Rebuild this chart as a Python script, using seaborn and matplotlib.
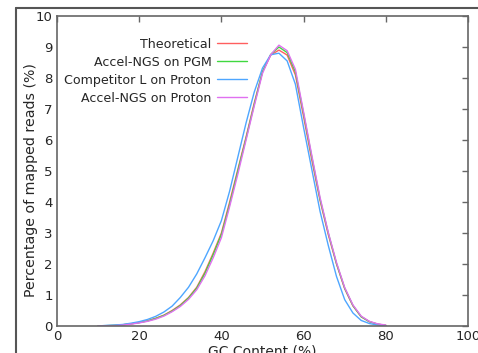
import numpy as np
import pandas as pd
import matplotlib
matplotlib.use("Agg")
import matplotlib.pyplot as plt
from matplotlib.lines import Line2D
import seaborn as sns

# GC content bins (%)
gc = [10, 12, 14, 16, 18, 20, 22, 24, 26, 28, 30, 32, 34, 36, 38, 40, 42, 44,
      46, 48, 50, 52, 54, 56, 58, 60, 62, 64, 66, 68, 70, 72, 74, 76, 78, 80]

theoretical = [0.0, 0.01, 0.02, 0.04, 0.07, 0.11, 0.17, 0.25, 0.35, 0.5, 0.68, 0.92,
               1.25, 1.75, 2.35, 3.0, 4.0, 5.05, 6.1, 7.2, 8.2, 8.74, 8.9, 8.74,
               8.1, 6.75, 5.35, 4.05, 2.95, 2.0, 1.2, 0.65, 0.3, 0.14, 0.06, 0.02]
accel_pgm = [0.0, 0.01, 0.02, 0.04, 0.07, 0.11, 0.16, 0.24, 0.34, 0.48, 0.66, 0.9,
             1.22, 1.7, 2.3, 2.95, 3.92, 5.0, 6.05, 7.15, 8.2, 8.76, 9.0, 8.82,
             8.2, 6.85, 5.45, 4.1, 3.0, 2.02, 1.22, 0.66, 0.3, 0.14, 0.06, 0.02]
competitor_proton = [0.0, 0.02, 0.03, 0.05, 0.09, 0.14, 0.21, 0.31, 0.45, 0.64, 0.92, 1.25,
                     1.68, 2.2, 2.75, 3.4, 4.35, 5.45, 6.55, 7.55, 8.32, 8.75, 8.8, 8.55,
                     7.8, 6.4, 5.05, 3.7, 2.6, 1.6, 0.85, 0.42, 0.18, 0.08, 0.03, 0.01]
accel_proton = [0.0, 0.0, 0.01, 0.03, 0.06, 0.1, 0.15, 0.22, 0.32, 0.46, 0.63, 0.86,
                1.17, 1.62, 2.2, 2.85, 3.85, 4.9, 6.0, 7.1, 8.15, 8.75, 9.06, 8.88,
                8.28, 6.9, 5.5, 4.15, 3.02, 2.05, 1.24, 0.68, 0.32, 0.15, 0.07, 0.03]

labels = ["Theoretical", "Accel-NGS on PGM", "Competitor L on Proton", "Accel-NGS on Proton"]
colors = ["#ff5f5f", "#40d840", "#4ea6ff", "#e070f0"]

df = pd.concat([
    pd.DataFrame({"gc": gc, "pct": vals, "sample": lab})
    for lab, vals in zip(labels, [theoretical, accel_pgm, competitor_proton, accel_proton])
])

sns.set_style("white")
plt.rcParams["font.family"] = ["DejaVu Sans"]

fig = plt.figure(figsize=(4.78, 3.53), dpi=100)
ax = fig.add_axes([57 / 478, 1 - 326 / 353, 411 / 478, 310 / 353])

sns.lineplot(data=df, x="gc", y="pct", hue="sample", hue_order=labels,
             palette=colors, linewidth=1.0, ax=ax)

ax.set_xlim(0, 100)
ax.set_ylim(0, 10)
ax.set_xticks(range(0, 101, 20))
ax.set_yticks(range(0, 11))
ax.set_xlabel("GC Content (%)", fontsize=10, labelpad=1)
ax.set_ylabel("Percentage of mapped reads (%)", fontsize=10.2)
ax.yaxis.set_label_coords(-0.047, 0.47)

for s in ax.spines.values():
    s.set_color("#666666")
    s.set_linewidth(1.2)
ax.tick_params(direction="in", length=4, width=1, color="#666666",
               top=True, right=True, labelsize=9.5, pad=3)

handles, labs = ax.get_legend_handles_labels()
ax.legend(handles, labs, loc="upper right", bbox_to_anchor=(0.462, 0.93),
          frameon=False, markerfirst=False, fontsize=9.1, handlelength=2.4,
          handletextpad=0.4, labelspacing=0.4, borderpad=0, borderaxespad=0)

# outer frame of the original figure
fig.add_artist(Line2D([16 / 478, 16 / 478], [0, 1 - 8 / 353], transform=fig.transFigure,
                      color="#555555", lw=1.5))
fig.add_artist(Line2D([16 / 478, 1], [1 - 8 / 353, 1 - 8 / 353], transform=fig.transFigure,
                      color="#555555", lw=1.5))

fig.savefig("out.png", dpi=100)
